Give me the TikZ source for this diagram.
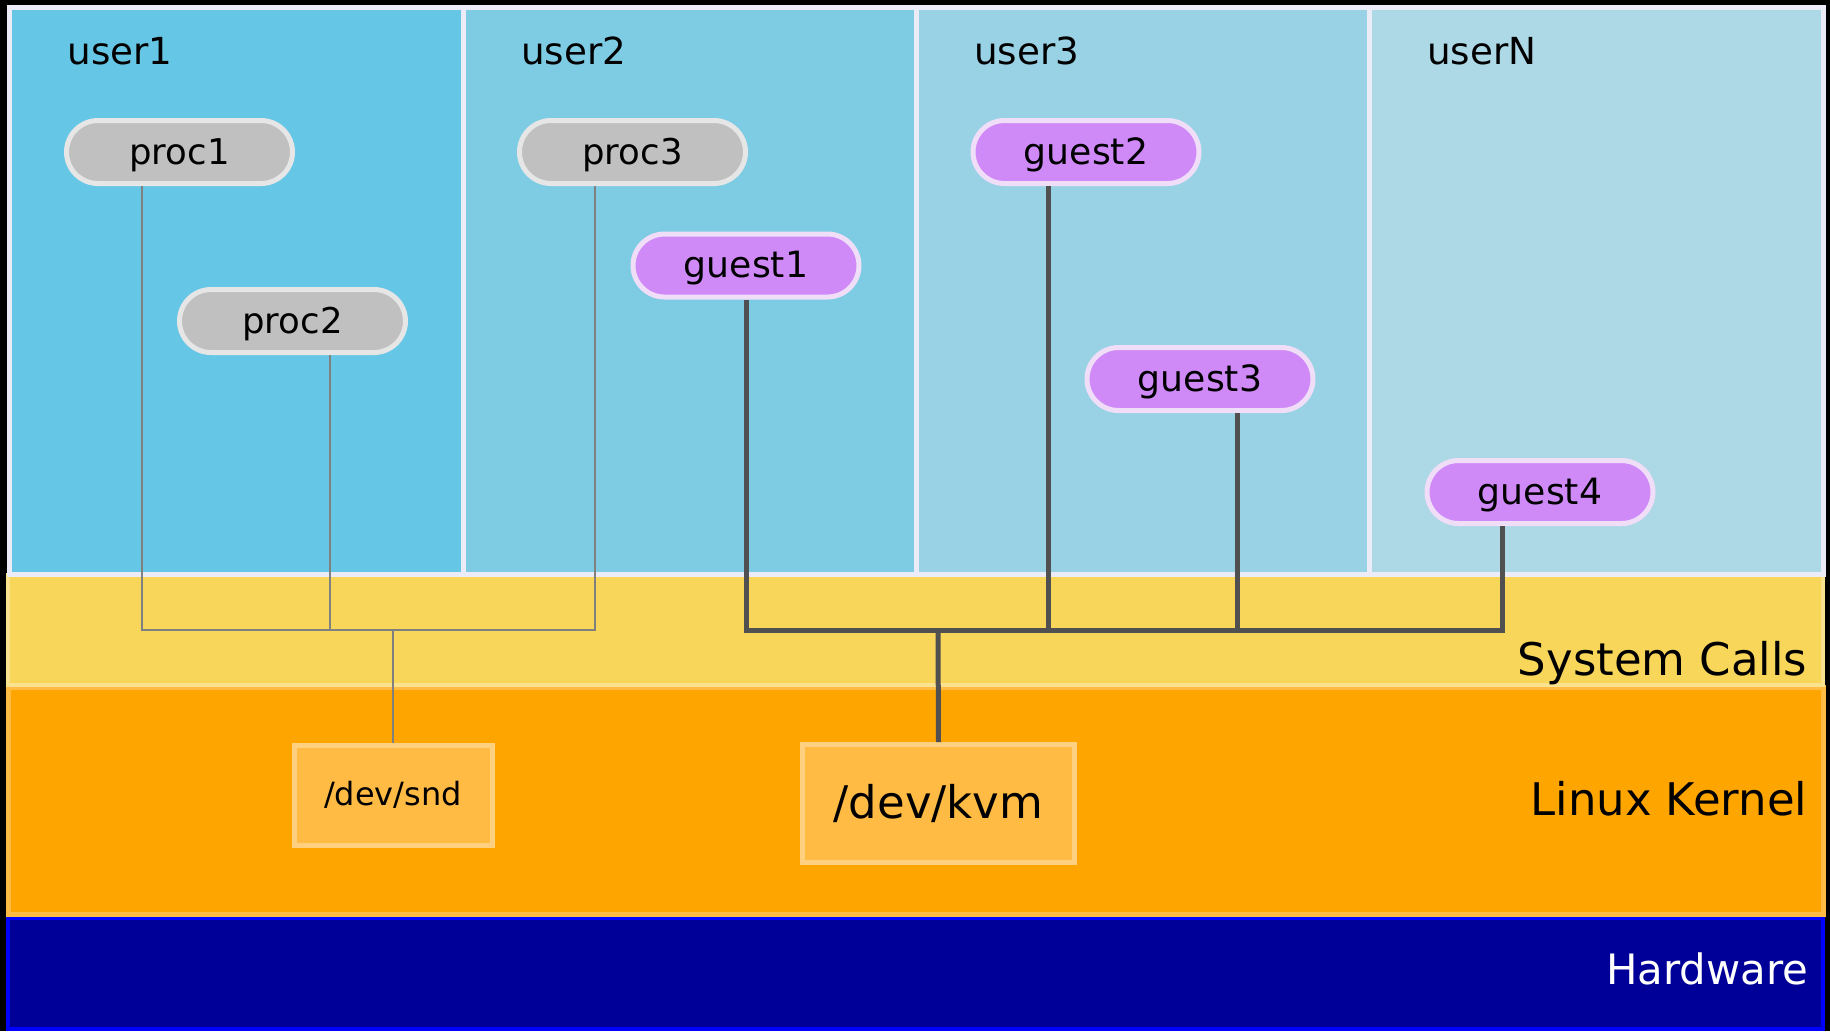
\documentclass[tikz,border=0pt]{standalone}
\usepackage{fontspec}
\setmainfont{DejaVu Sans}
\usetikzlibrary{shapes.misc}

\definecolor{userone}{RGB}{102,198,230}
\definecolor{usertwo}{RGB}{126,204,228}
\definecolor{userthree}{RGB}{152,210,228}
\definecolor{userfour}{RGB}{173,216,230}
\definecolor{lavender}{RGB}{236,236,248}
\definecolor{callfill}{RGB}{248,214,90}
\definecolor{calledge}{RGB}{250,226,142}
\definecolor{kernfill}{RGB}{255,165,0}
\definecolor{kernedge}{RGB}{255,187,68}
\definecolor{hwfill}{RGB}{0,0,153}
\definecolor{hwedge}{RGB}{0,0,255}
\definecolor{procfill}{RGB}{192,192,192}
\definecolor{procedge}{RGB}{230,230,230}
\definecolor{guestfill}{RGB}{208,138,248}
\definecolor{guestedge}{RGB}{240,222,248}
\definecolor{devfill}{RGB}{255,187,68}
\definecolor{devedge}{RGB}{255,208,128}
\definecolor{procline}{RGB}{128,128,128}
\definecolor{guestline}{RGB}{80,80,80}

\begin{document}
\begin{tikzpicture}[x=0.1mm,y=-0.1mm,
    column/.style={draw=lavender,line width=0.5mm},
    pill/.style={rounded rectangle,minimum width=22.6mm,minimum height=6.3mm,inner sep=0pt,
      line width=0.5mm,text height=0.73em,text depth=0.02em},
    procpill/.style={pill,draw=procedge,fill=procfill,font=\fontsize{10.1}{12}\selectfont},
    guestpill/.style={pill,draw=guestedge,fill=guestfill,font=\fontsize{10.3}{12}\selectfont},
    devbox/.style={draw=devedge,fill=devfill,line width=0.5mm,inner sep=0pt},
    procwire/.style={draw=procline,line width=0.25mm},
    guestwire/.style={draw=guestline,line width=0.5mm},
    userlabel/.style={anchor=base west,inner sep=0pt,font=\fontsize{10.6}{12}\selectfont},
    layerlabel/.style={anchor=base east,inner sep=0pt,font=\fontsize{12.8}{15}\selectfont}]

  % layers, bottom up
  \fill[black] (0,0) rectangle (1830,1031);
  \draw[fill=hwfill,draw=hwedge,line width=0.4mm] (8,918) rectangle (1823,1028.5);
  \draw[fill=kernfill,draw=kernedge,line width=0.5mm] (8.5,687.5) rectangle (1823,914.5);
  \draw[fill=callfill,draw=calledge,line width=0.4mm] (8,575) rectangle (1823,685);
  \draw[column,fill=userone]   (9.5,7.5)  rectangle (463,574.5);
  \draw[column,fill=usertwo]   (463,7.5)  rectangle (916,574.5);
  \draw[column,fill=userthree] (916,7.5)  rectangle (1369.5,574.5);
  \draw[column,fill=userfour]  (1369.5,7.5) rectangle (1823,574.5);

  \node[userlabel] (user1) at (67,64)     {user1};
  \node[userlabel] (user2) at (520.5,64)  {user2};
  \node[userlabel] (user3) at (973.5,64)  {user3};
  \node[userlabel] (userN) at (1426.5,64) {userN};

  \node[layerlabel] (calls)  at (1808,675) {System Calls};
  \node[layerlabel] (kernel) at (1808,815) {Linux Kernel};
  \node[layerlabel,text=white,font=\fontsize{11.9}{14}\selectfont] (hw) at (1809,984) {Hardware};

  % processes and guests
  \node[procpill]  (proc1)  at (179.5,152) {proc1};
  \node[procpill]  (proc2)  at (292.5,321) {proc2};
  \node[procpill]  (proc3)  at (632.5,152) {proc3};
  \node[guestpill] (guest1) at (746,265.5) {guest1};
  \node[guestpill] (guest2) at (1086,152)  {guest2};
  \node[guestpill] (guest3) at (1200,379)  {guest3};
  \node[guestpill] (guest4) at (1540,492)  {guest4};

  % devices
  \node[devbox,minimum width=19.8mm,minimum height=10mm,font=\fontsize{9.1}{11}\selectfont]
    (snd) at (393,795) {/dev/snd};
  \node[devbox,minimum width=27.2mm,minimum height=11.8mm,font=\fontsize{12.8}{15}\selectfont]
    (kvm) at (938.5,803.5) {/dev/kvm};

  \coordinate (sndbus) at (393,630);
  \coordinate (kvmbus) at (938,630);

  % wiring
  \draw[procwire] ([xshift=-3.75mm]proc1.south) |- (sndbus) -| ([xshift=-3.75mm]proc3.south);
  \draw[procwire] ([xshift=3.75mm]proc2.south) |- (sndbus);
  \draw[procwire] (sndbus) -- (snd.north);

  \draw[guestwire] (guest1.south) |- (kvmbus) -| ([xshift=-3.8mm]guest4.south);
  \draw[guestwire] ([xshift=-3.8mm]guest2.south) |- (kvmbus);
  \draw[guestwire] ([xshift=3.7mm]guest3.south) |- (kvmbus);
  \draw[guestwire] (kvmbus) -- (kvm.north);
\end{tikzpicture}
\end{document}
